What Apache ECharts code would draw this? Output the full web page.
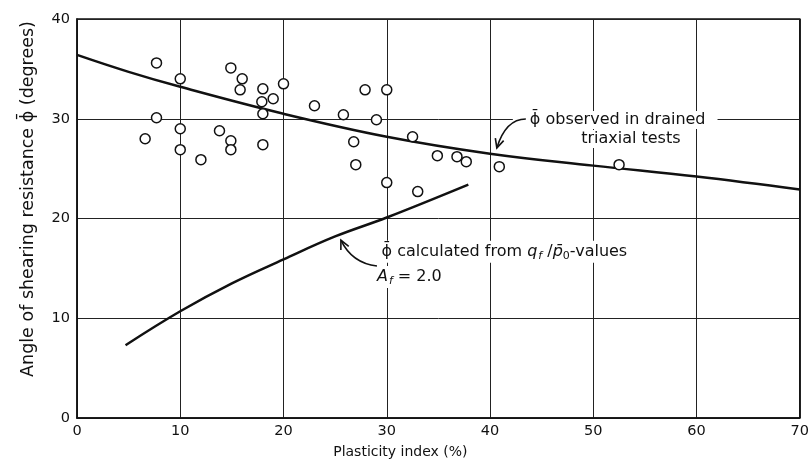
<!DOCTYPE html>
<html><head><meta charset="utf-8">
<script src="https://cdn.jsdelivr.net/npm/echarts@6/dist/echarts.min.js"></script>
<style>html,body{margin:0;padding:0;background:#fff}#c{width:812px;height:467px}</style>
</head><body><div id="c"></div>
<script>
// ---- data ----
const xTicks = [0, 10, 20, 30, 40, 50, 60, 70];
const yTicks = [0, 10, 20, 30, 40];
const drainedTests = [
  [7.7,35.6],[10,34.0],[7.7,30.1],[6.6,28.0],[10,29.0],[10,26.9],[12,25.9],
  [14.9,35.1],[16,34.0],[15.8,32.9],[18,33.0],[17.9,31.7],[19,32.0],[18,30.5],
  [20,33.5],[23,31.3],[25.8,30.4],[13.8,28.8],[14.9,27.8],[14.9,26.9],[18,27.4],
  [26.8,27.7],[27,25.4],[27.9,32.9],[30,32.9],[29,29.9],[32.5,28.2],[34.9,26.3],
  [36.8,26.2],[37.7,25.7],[40.9,25.2],[30,23.6],[33,22.7],[52.5,25.4]
];
const observedCurve = [[0,36.4],[5,34.7],[10,33.2],[20,30.5],[30,28.2],[40,26.5],[50,25.3],[60,24.2],[70,22.9]];
const calculatedCurve = [[4.7,7.3],[10,10.7],[15,13.5],[20,15.9],[25,18.2],[30,20.1],[37.9,23.4]];
// annotation anchors (data coordinates)
const obsLabel1 = [42.21, 29.87];
const obsLabel2 = [53.64, 27.97];
const obsArrow = {start:[43.47,29.97], cp:[41.53,29.97], tip:[40.66,27.07]};
const calcLabel1 = [29.21, 16.67];
const calcLabel2 = [28.76, 14.14];
const calcArrow = {start:[29.05,15.24], cp:[26.62,15.54], tip:[25.56,17.84]};

const FONT = '"DejaVu Sans", sans-serif';
const INK = '#111';
const chart = echarts.init(document.getElementById('c'), null, {renderer:'canvas'});
chart.setOption({
  animation: false,
  backgroundColor: '#fff',
  grid: {left: 77, right: 12, top: 19, bottom: 49, show: true, borderColor: INK, borderWidth: 1.5, backgroundColor: 'transparent'},
  xAxis: {
    type: 'value', min: xTicks[0], max: xTicks[xTicks.length-1], interval: 10,
    name: 'Plasticity index (%)', nameLocation: 'middle', nameGap: 27,
    nameTextStyle: {fontFamily: FONT, fontSize: 14, color: INK, padding: [0, 76, 0, 0]},
    axisLine: {lineStyle: {color: INK, width: 1.5}},
    axisTick: {show: false},
    axisLabel: {fontFamily: FONT, fontSize: 14.5, color: INK, margin: 6},
    splitLine: {show: true, lineStyle: {color: '#222', width: 1}}
  },
  yAxis: {
    type: 'value', min: yTicks[0], max: yTicks[yTicks.length-1], interval: 10,
    name: 'Angle of shearing resistance ϕ̄ (degrees)', nameLocation: 'middle', nameGap: 40, nameRotate: 90,
    nameTextStyle: {fontFamily: FONT, fontSize: 17.5, color: INK, padding: [0, 0, 0, 39]},
    axisLine: {lineStyle: {color: INK, width: 1.5}},
    axisTick: {show: false},
    axisLabel: {fontFamily: FONT, fontSize: 14.5, color: INK, margin: 7},
    splitLine: {show: true, lineStyle: {color: '#222', width: 1}}
  },
  series: [
    {type: 'line', data: observedCurve, smooth: 0.4, symbol: 'none', lineStyle: {color: INK, width: 2.5}, z: 3},
    {type: 'line', data: calculatedCurve, smooth: 0.4, symbol: 'none', lineStyle: {color: INK, width: 2.5}, z: 3},
    {type: 'scatter', data: drainedTests, symbol: 'circle', symbolSize: 10,
     itemStyle: {color: '#fff', borderColor: INK, borderWidth: 1.5, opacity: 1}, z: 4}
  ]
});

function px(p){ return chart.convertToPixel({gridIndex: 0}, p); }
function arrow(a){
  const s = px(a.start), c = px(a.cp), t = px(a.tip);
  let dx = t[0]-c[0], dy = t[1]-c[1];
  const L = Math.hypot(dx, dy); dx /= L; dy /= L;
  const len = 10, ang = 0.45;
  const b1 = [t[0] - len*(dx*Math.cos(ang) - dy*Math.sin(ang)), t[1] - len*(dy*Math.cos(ang) + dx*Math.sin(ang))];
  const b2 = [t[0] - len*(dx*Math.cos(-ang) - dy*Math.sin(-ang)), t[1] - len*(dy*Math.cos(-ang) + dx*Math.sin(-ang))];
  return [
    {type: 'bezierCurve', shape: {x1: s[0], y1: s[1], cpx1: c[0], cpy1: c[1], x2: t[0], y2: t[1]},
     style: {stroke: INK, lineWidth: 1.6, fill: null}, z: 20},
    {type: 'polyline', shape: {points: [b1, t, b2]}, style: {stroke: INK, lineWidth: 1.6, fill: null}, z: 20}
  ];
}
function label(p, text, align, rich, pad){
  const q = px(p);
  return {type: 'text', x: q[0], y: q[1], z: 15,
    style: {text: text, fill: INK, font: '16px ' + FONT, align: align, verticalAlign: 'middle',
      backgroundColor: '#fff', padding: pad || [1, 3, 1, 3], rich: rich || {}}};
}
const richCalc = {
  it: {fontFamily: FONT, fontSize: 16, fontStyle: 'italic', fill: INK},
  sub: {fontFamily: FONT, fontSize: 11, fontStyle: 'italic', padding: [9, 0, 0, 1], fill: INK},
  sub0: {fontFamily: FONT, fontSize: 11, padding: [9, 0, 0, 0], fill: INK}
};
chart.setOption({graphic: [
  label(obsLabel1, 'ϕ̄ observed in drained', 'left', null, [1, 12, 1, 17]),
  label(obsLabel2, 'triaxial tests', 'center'),
  label(calcLabel1, 'ϕ̄ calculated from {it|q}{sub|f} /{it|p̄}{sub0|0}-values', 'left', richCalc),
  label(calcLabel2, '{it|A}{sub|f} = 2.0', 'left', richCalc),
  ...arrow(obsArrow),
  ...arrow(calcArrow)
]});
</script></body></html>
